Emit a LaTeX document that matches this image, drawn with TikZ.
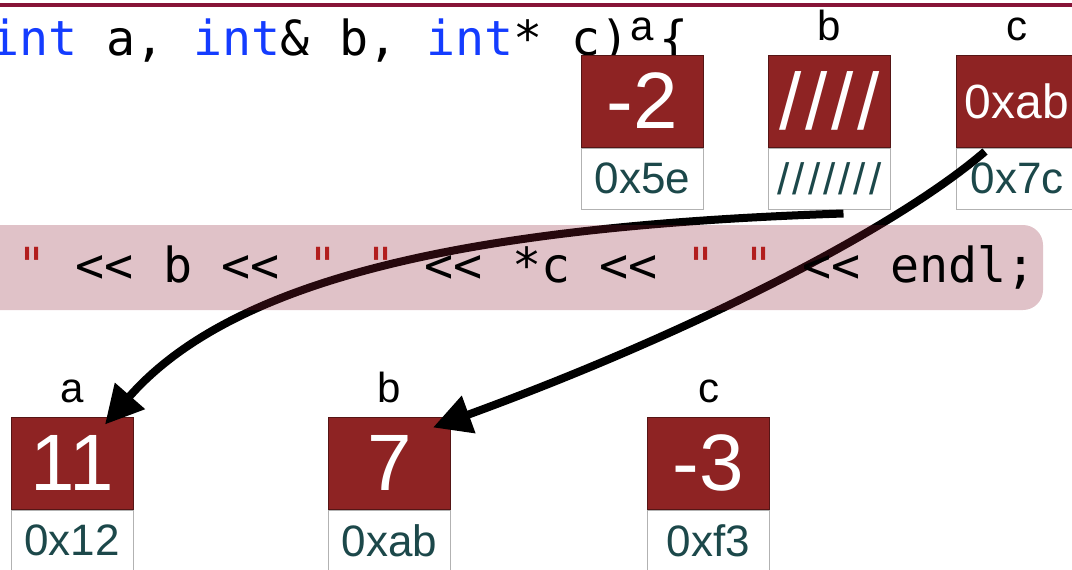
\documentclass[tikz,border=0pt]{standalone}
\usepackage{fontspec}
\setmainfont{Liberation Sans}
\newfontfamily\codefont{DejaVu Sans Mono}[Ligatures=TeXOff]
\usetikzlibrary{arrows.meta, positioning, calc}
\definecolor{CellRed}{RGB}{142, 35, 35}
\definecolor{AddrTeal}{RGB}{28, 72, 74}
\definecolor{KeyBlue}{RGB}{20, 60, 255}
\definecolor{StrRed}{RGB}{178, 30, 30}
\definecolor{LineRed}{RGB}{135, 20, 55}
\definecolor{HiRed}{RGB}{142, 30, 50}
\tikzset{
    cell/.style={rectangle, draw=CellRed!60!black, fill=CellRed, text=white, line width=1pt, minimum width=122pt, minimum height=92pt, inner sep=0pt, font=\fontsize{80}{80}\selectfont},
    addr/.style={rectangle, draw=gray!60, fill=white, text=AddrTeal, line width=1pt, minimum width=122pt, minimum height=61pt, inner sep=0pt, font=\fontsize{44}{44}\selectfont},
    varname/.style={anchor=base, inner sep=0pt, font=\fontsize{42}{42}\selectfont},
    code/.style={anchor=base west, inner sep=0pt, font=\codefont\fontsize{48.3}{48.3}\selectfont},
    ptr/.style={-{Triangle[length=38pt, width=38pt]}, line width=8pt}
}

\begin{document}
\begin{tikzpicture}[x=1pt, y=-1pt]
            \useasboundingbox (0,0) rectangle (1072,570);
            \draw[LineRed, line width=4pt] (0,5) -- (1072,5);

            \node[code] (sig) at (-10,55) {\textcolor{KeyBlue}{int} a, \textcolor{KeyBlue}{int}\& b, \textcolor{KeyBlue}{int}* c) \{};

            \node[cell] (fa) at (642.5,101) {-2};
            \node[addr, below=0pt of fa] (fa-addr) {0x5e};
            \node[varname] (fa-name) at (642.5,41) {a};
            \node[cell] (fb) at (829.5,101) {/\kern4pt/\kern4pt/\kern4pt/};
            \node[addr, below=0pt of fb] (fb-addr) {/\kern3pt/\kern3pt/\kern3pt/\kern3pt/\kern3pt/\kern3pt/};
            \node[varname] (fb-name) at (829.5,41) {b};
            \node[cell, font=\fontsize{48}{48}\selectfont] (fc) at (1017,101) {0xab};
            \node[addr, below=0pt of fc] (fc-addr) {0x7c};
            \node[varname] (fc-name) at (1017,41) {c};

            \node[cell] (ma) at (72,463) {11};
            \node[addr, below=0pt of ma] (ma-addr) {0x12};
            \node[varname] (ma-name) at (72,402) {a};
            \node[cell] (mb) at (389.5,463) {7};
            \node[addr, below=0pt of mb] (mb-addr) {0xab};
            \node[varname] (mb-name) at (389.5,402) {b};
            \node[cell] (mc) at (708.5,463) {-3};
            \node[addr, below=0pt of mc] (mc-addr) {0xf3};
            \node[varname] (mc-name) at (708.5,402) {c};

            \coordinate (fromB) at ([xshift=14pt, yshift=-4pt]fb-addr.south);
            \coordinate (toA) at ([xshift=33pt, yshift=-8pt]ma.north);
            \coordinate (fromC) at ([xshift=-32pt, yshift=-4pt]fc-addr.north);
            \coordinate (toB) at ([xshift=43.5pt, yshift=-11pt]mb.north);

            \draw[ptr] (fromB) .. controls (500,225) and (240,270) .. (toA);
            \draw[ptr] (fromC) .. controls (900,225) and (700,330) .. (toB);

            \fill[HiRed, fill opacity=0.27, rounded corners=20pt] (-40,225) rectangle (1043,310);
            \node[code] (out) at (17.5,282) {\textcolor{StrRed}{"} << b << \textcolor{StrRed}{" "} << *c << \textcolor{StrRed}{" "} << endl;};
            \end{tikzpicture}
\end{document}
